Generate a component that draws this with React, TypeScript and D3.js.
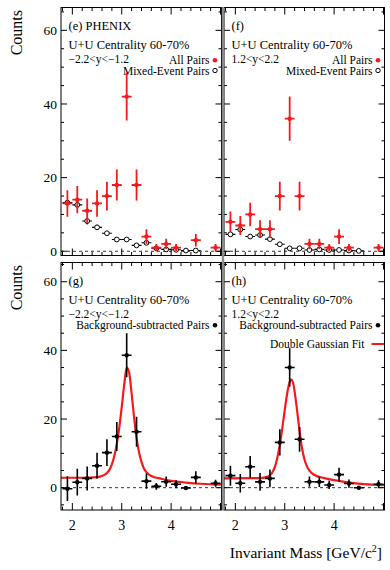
import React, { useEffect, useRef } from 'react';
import * as d3 from 'd3';

// bin centres (GeV/c^2), 0.2 wide
const massBins = [1.9, 2.1, 2.3, 2.5, 2.7, 2.9, 3.1, 3.3, 3.5, 3.7, 3.9, 4.1, 4.3, 4.5, 4.7, 4.9];

// (e) -2.2<y<-1.2
const allPairsE = [13, 14, 11, 13, 15, 18, 42, 18, 4, 1, 2, 1, null, 3, null, 1];
const allPairsErrE = [3.6, 3.7, 3.3, 3.6, 3.9, 4.2, 6.5, 4.2, 2, 1, 1.4, 1, null, 1.7, null, 1];
const mixedE = [13.2, 12.6, 8.2, 6.5, 4.9, 3.2, 3.2, 1.6, 2.3, 0.8, 0.5, 0.4, 0.2, 0.2, null, null];
const mixedErrE = [1.0, 0.9, 0.9, 0.7, 0.6, 0.4, 0.4, 0.3, 0.4, 0.2, 0.2, 0.2, 0.1, 0.1, null, null];

// (f) 1.2<y<2.2
const allPairsF = [8, 7, 10, 6, 6, 15, 36, 15, 2, 2, 1, 4, 1, null, null, 1];
const allPairsErrF = [2.8, 2.6, 3.2, 2.4, 2.4, 3.9, 6, 3.9, 1.4, 1.4, 1, 2, 1, null, null, 1];
const mixedF = [4.6, 5.9, 4.0, 4.4, 3.3, 1.9, 0.8, 0.8, 0.35, 0.5, 0.35, 0.35, 0.2, 0.1, null, null];
const mixedErrF = [0.5, 0.6, 0.5, 0.5, 0.4, 0.3, 0.2, 0.2, 0.1, 0.1, 0.1, 0.1, 0.1, 0.1, null, null];

// (g) background subtracted, -2.2<y<-1.2
const signalG = [-0.3, 1.6, 2.7, 6.4, 10.2, 14.9, 38.6, 16.3, 1.9, 0.4, 1.75, 1.0, -0.1, 3.0, null, 1.3];
const signalErrG = [3.6, 3.9, 3.5, 3.8, 3.9, 4.2, 6.4, 4.4, 2.2, 1.0, 1.5, 1.2, 0.5, 1.8, null, 1.0];

// (h) background subtracted, 1.2<y<2.2
const signalH = [3.5, 1.3, 6.1, 1.7, 2.7, 13.2, 35.0, 14.1, 1.75, 1.7, 0.8, 3.8, 1.2, 0, null, 1.0];
const signalErrH = [2.9, 2.7, 3.1, 2.6, 2.6, 3.8, 5.6, 3.6, 1.5, 1.5, 1.2, 2.0, 1.2, 0.5, null, 1.2];

// double gaussian fit curves
const fitMassG = [1.77, 2.2, 2.5, 2.6, 2.7, 2.75, 2.8, 2.85, 2.9, 2.95, 3.0, 3.05, 3.1, 3.15, 3.2, 3.25, 3.3, 3.35, 3.4, 3.45, 3.5, 3.6, 3.8, 4.0, 4.3, 4.6, 5.02];
const fitCountsG = [2.9, 2.9, 3.1, 3.4, 4.3, 5.2, 6.8, 9.2, 12.8, 17.5, 23.5, 30, 35, 33.5, 27.5, 20.5, 14.5, 10.3, 7.5, 5.6, 4.5, 3.4, 2.6, 2.0, 1.5, 1.15, 0.9];
const fitMassH = [1.77, 2.5, 2.6, 2.7, 2.75, 2.8, 2.85, 2.9, 2.95, 3.0, 3.05, 3.1, 3.13, 3.17, 3.2, 3.25, 3.3, 3.35, 3.4, 3.45, 3.5, 3.6, 3.8, 4.0, 4.3, 4.6, 5.02];
const fitCountsH = [2.7, 2.8, 3.0, 3.6, 4.5, 6.0, 8.7, 12.5, 17.3, 22.6, 27.5, 30.8, 31.5, 30.5, 28, 22.5, 16.5, 11.5, 8.2, 6.2, 5.0, 3.7, 2.8, 2.2, 1.5, 1.05, 0.75];

const yTickLabels = [0, 20, 40, 60];
const xTickLabels = [2, 3, 4];

const FONT = "'Liberation Serif', 'Times New Roman', serif";
const RED = '#f21a1a';

const App = () => {
  const ref = useRef(null);

  useEffect(() => {
    const svg = d3.select(ref.current);
    svg.selectAll('*').remove();

    const cols = [[61, 221.5], [224, 384.5]];
    const rows = [
      { range: [255.5, 7.5], domain: [-1.15, 66.2] },
      { range: [510, 262.5], domain: [-6.5, 65.6] },
    ];

    const panels = [
      { col: 0, row: 0, tag: '(e) PHENIX', rap: '\u22122.2<y<\u22121.2', red: allPairsE, redErr: allPairsErrE, mix: mixedE, mixErr: mixedErrE },
      { col: 1, row: 0, tag: '(f)', rap: '1.2<y<2.2', red: allPairsF, redErr: allPairsErrF, mix: mixedF, mixErr: mixedErrF },
      { col: 0, row: 1, tag: '(g)', rap: '\u22122.2<y<\u22121.2', sig: signalG, sigErr: signalErrG, fitX: fitMassG, fitY: fitCountsG },
      { col: 1, row: 1, tag: '(h)', rap: '1.2<y<2.2', sig: signalH, sigErr: signalErrH, fitX: fitMassH, fitY: fitCountsH, showFitLegend: true },
    ];

    panels.forEach((p, pi) => {
      const [x0, x1] = cols[p.col];
      const r = rows[p.row];
      const top = r.range[1];
      const bottom = r.range[0];
      const x = d3.scaleLinear().domain([1.77, 5.02]).range([x0, x1]);
      const y = d3.scaleLinear().domain(r.domain).range(r.range);
      const g = svg.append('g');

      const clipId = `clip${pi}`;
      svg.append('clipPath').attr('id', clipId)
        .append('rect').attr('x', x0).attr('y', top).attr('width', x1 - x0).attr('height', bottom - top);
      const plot = g.append('g').attr('clip-path', `url(#${clipId})`);

      // zero line
      plot.append('line')
        .attr('x1', x0).attr('x2', x1)
        .attr('y1', y(0)).attr('y2', y(0))
        .attr('stroke', '#000').attr('stroke-width', 0.8)
        .attr('stroke-dasharray', '3,3');

      const drawPoints = (vals, errs, color, width, marker) => {
        massBins.forEach((m, i) => {
          const v = vals[i];
          if (v === null || v === undefined) return;
          const e = errs[i] || 0;
          const pg = plot.append('g');
          pg.append('line')
            .attr('x1', x(m - 0.1)).attr('x2', x(m + 0.1))
            .attr('y1', y(v)).attr('y2', y(v))
            .attr('stroke', color).attr('stroke-width', width);
          if (e > 0) {
            pg.append('line')
              .attr('x1', x(m)).attr('x2', x(m))
              .attr('y1', y(v - e)).attr('y2', y(v + e))
              .attr('stroke', color).attr('stroke-width', width);
          }
          if (marker === 'open') {
            pg.append('circle').attr('cx', x(m)).attr('cy', y(v)).attr('r', 2.4)
              .attr('fill', '#fff').attr('stroke', '#000').attr('stroke-width', 1);
          } else {
            pg.append('circle').attr('cx', x(m)).attr('cy', y(v)).attr('r', 2.2)
              .attr('fill', color);
          }
        });
      };

      if (p.mix) {
        drawPoints(p.mix, p.mixErr, '#000', 1.1, 'open');
        drawPoints(p.red, p.redErr, RED, 1.8, 'filled');
      }
      if (p.sig) {
        const fitData = p.fitX.map((m, i) => [m, p.fitY[i]]);
        plot.append('path')
          .datum(fitData)
          .attr('fill', 'none')
          .attr('stroke', RED)
          .attr('stroke-width', 2.2)
          .attr('d', d3.line().x(d => x(d[0])).y(d => y(d[1])).curve(d3.curveMonotoneX));
        drawPoints(p.sig, p.sigErr, '#000', 1.6, 'filled');
      }

      // texts
      const tx = x0 + 7.5;
      const txt = (s, xx, yy, size, anchor = 'start') =>
        g.append('text').attr('x', xx).attr('y', yy)
          .attr('font-family', FONT).attr('font-size', size)
          .attr('text-anchor', anchor).text(s);

      txt(p.tag, tx, top + 22.5, 12.5);
      txt('U+U Centrality 60-70%', tx, top + 41.5, 12.5);
      txt(p.rap, tx, top + 55, 11.5);

      const legX = x1 - 12;
      const mkX = x1 - 6.5;
      if (p.mix) {
        txt('All Pairs', legX, top + 56.5, 11.5, 'end');
        g.append('circle').attr('cx', mkX).attr('cy', top + 52.8).attr('r', 2.3).attr('fill', RED);
        txt('Mixed-Event Pairs', legX, top + 67, 11.5, 'end');
        g.append('circle').attr('cx', mkX).attr('cy', top + 63).attr('r', 2.2)
          .attr('fill', '#fff').attr('stroke', '#000').attr('stroke-width', 1);
      }
      if (p.sig) {
        txt('Background-subtracted Pairs', legX, top + 66.5, 11.5, 'end');
        g.append('circle').attr('cx', mkX).attr('cy', top + 62.8).attr('r', 2.3).attr('fill', '#000');
        if (p.showFitLegend) {
          txt('Double Gaussian Fit', x1 - 20, top + 85, 11.5, 'end');
          g.append('line').attr('x1', x1 - 13).attr('x2', x1)
            .attr('y1', top + 81.5).attr('y2', top + 81.5)
            .attr('stroke', RED).attr('stroke-width', 2);
        }
      }

      // frame
      g.append('rect')
        .attr('x', x0).attr('y', top).attr('width', x1 - x0).attr('height', bottom - top)
        .attr('fill', 'none').attr('stroke', '#000').attr('stroke-width', 1);

      // x ticks top & bottom
      d3.range(1.8, 5.01, 0.2).forEach(t => {
        const major = Math.abs(t - Math.round(t)) < 1e-6;
        const len = major ? 7 : 3.5;
        const xx = x(t);
        g.append('line').attr('x1', xx).attr('x2', xx).attr('y1', bottom).attr('y2', bottom - len)
          .attr('stroke', '#000').attr('stroke-width', 1);
        g.append('line').attr('x1', xx).attr('x2', xx).attr('y1', top).attr('y2', top + len)
          .attr('stroke', '#000').attr('stroke-width', 1);
      });
      // y ticks left & right
      d3.range(-5, 66, 5).forEach(t => {
        if (t < r.domain[0] || t > r.domain[1]) return;
        const major = t % 20 === 0;
        const len = major ? 6 : 3;
        const yy = y(t);
        g.append('line').attr('x1', x0).attr('x2', x0 + len).attr('y1', yy).attr('y2', yy)
          .attr('stroke', '#000').attr('stroke-width', 1);
        g.append('line').attr('x1', x1).attr('x2', x1 - len).attr('y1', yy).attr('y2', yy)
          .attr('stroke', '#000').attr('stroke-width', 1);
      });

      if (p.col === 0) {
        yTickLabels.forEach(t => {
          txt(String(t), x0 - 4, y(t) + 4.6, 13.5, 'end');
        });
        g.append('text')
          .attr('transform', `translate(21.5,${top + 2.5}) rotate(-90)`)
          .attr('text-anchor', 'end')
          .attr('font-family', FONT).attr('font-size', 16)
          .text('Counts');
      }
      if (p.row === 1) {
        xTickLabels.forEach(t => {
          txt(String(t), x(t), 529.5, 14, 'middle');
        });
      }
    });

    // separator between columns
    svg.append('rect').attr('x', 221.8).attr('y', 7).attr('width', 2.4).attr('height', 503.5)
      .attr('fill', '#8a8a8a');

    const xl = svg.append('text')
      .attr('x', 382).attr('y', 558)
      .attr('text-anchor', 'end')
      .attr('font-family', FONT).attr('font-size', 15.5);
    xl.append('tspan').text('Invariant Mass [GeV/c');
    xl.append('tspan').attr('font-size', 10).attr('dy', -6).text('2');
    xl.append('tspan').attr('dy', 6).text(']');
  }, []);

  return (
    <svg ref={ref} width={390} height={570} style={{ display: 'block', position: 'absolute', left: 0, top: 0, background: '#fff' }} />
  );
};

export default App;
